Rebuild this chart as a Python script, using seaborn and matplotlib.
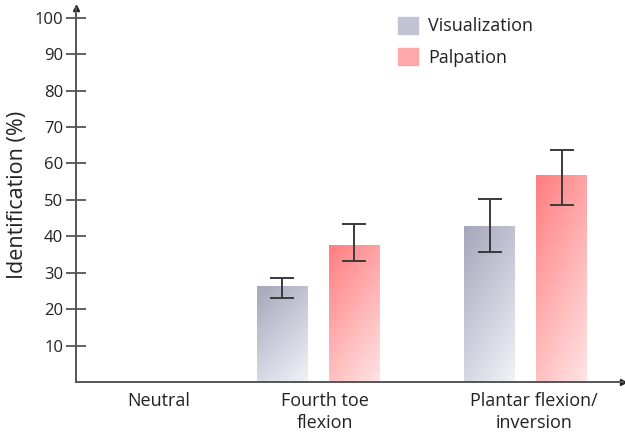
import matplotlib
matplotlib.use("Agg")
import matplotlib.pyplot as plt
import matplotlib.patches as mpatches
import numpy as np
import pandas as pd
import seaborn as sns

# ---- data ----
categories = ["Neutral", "Fourth toe\nflexion", "Plantar flexion/\ninversion"]
series = ["Visualization", "Palpation"]
visualization = [0.0, 26.3, 42.8]
palpation = [0.0, 37.7, 56.9]
vis_low = [0.0, 23.2, 35.8]
vis_high = [0.0, 28.6, 50.3]
pal_low = [0.0, 33.1, 48.7]
pal_high = [0.0, 43.3, 63.6]
yticks = [10, 20, 30, 40, 50, 60, 70, 80, 90, 100]

df = pd.DataFrame({
    "category": categories * 2,
    "method": [series[0]] * 3 + [series[1]] * 3,
    "value": visualization + palpation,
})

sns.set_theme(style="white")
plt.rcParams["font.family"] = ["Open Sans", "DejaVu Sans"]

fig = plt.figure(figsize=(6.25, 4.37), dpi=100)
ax = fig.add_axes([76 / 625, 1 - 382 / 437, 547 / 625, 374 / 437])

sns.barplot(data=df, x="category", y="value", hue="method", order=categories,
            hue_order=series, errorbar=None, width=0.695, gap=0.30,
            palette=["#c4c5d4", "#ffa6a8"], legend=False, ax=ax)

# gradient fills clipped to bars
top_colors = {0: np.array([165, 167, 187]) / 255, 1: np.array([255, 125, 128]) / 255}
bot_colors = {0: np.array([242, 242, 248]) / 255, 1: np.array([255, 228, 228]) / 255}
ny, nx = 100, 40
vy = np.linspace(0, 1, ny)[:, None]
ux = np.linspace(0, 1, nx)[None, :]
t = np.clip(0.65 * vy + 0.35 * ux, 0, 1)[..., None]

ncat = len(categories)
bars = list(ax.patches)
for i, p in enumerate(bars):
    h = p.get_height()
    if h <= 0:
        continue
    s = i // ncat
    img = top_colors[s] * (1 - t) + bot_colors[s] * t
    x0 = p.get_x()
    w = p.get_width()
    im = ax.imshow(img, extent=[x0, x0 + w, 0, h], origin="upper",
                   aspect="auto", zorder=p.get_zorder() + 0.1, interpolation="bilinear")
    im.set_clip_path(p)

# error bars
lows = vis_low + pal_low
highs = vis_high + pal_high
vals = visualization + palpation
for i, p in enumerate(bars):
    if vals[i] <= 0:
        continue
    xc = p.get_x() + p.get_width() / 2
    ax.errorbar([xc], [vals[i]], yerr=[[vals[i] - lows[i]], [highs[i] - vals[i]]],
                fmt="none", ecolor="#3a3a3a", elinewidth=1.4, capsize=8.5,
                capthick=1.4, zorder=5)

ax.set_xlim(-0.17, 2.47)
ax.set_ylim(0, 102.7)
ax.set_yticks(yticks)
ax.set_yticklabels([str(v) for v in yticks])
ax.set_xticks([0.227, 1.03, 2.04])
ax.set_xticklabels(categories, linespacing=1.3)

for side in ["top", "right"]:
    ax.spines[side].set_visible(False)
for side in ["left", "bottom"]:
    ax.spines[side].set_color("#555555")
    ax.spines[side].set_linewidth(1.4)

ax.tick_params(axis="y", direction="inout", length=14.5, width=1.3, color="#555555",
               labelsize=12, labelcolor="#222222", pad=2, left=True)
ax.tick_params(axis="x", length=0, labelsize=13, labelcolor="#222222", pad=7)

ax.plot(1, 0, ">", color="#222222", markersize=4.5, transform=ax.transAxes, clip_on=False)
ax.plot(0, 1, "^", color="#222222", markersize=4.5, transform=ax.transAxes, clip_on=False)

ax.set_xlabel("")
ax.set_ylabel("Identification (%)", fontsize=15.5, color="#222222", labelpad=5)

handles = [mpatches.Patch(color="#c3c4d3", label=series[0]),
           mpatches.Patch(color="#ffa8aa", label=series[1])]
ax.legend(handles=handles, loc="upper left", bbox_to_anchor=(0.589, 0.977),
          frameon=False, borderpad=0, borderaxespad=0, fontsize=13,
          handlelength=1.1, handleheight=1.1, handletextpad=0.55,
          labelspacing=0.7, labelcolor="#222222")

fig.savefig("out.png", dpi=100)
